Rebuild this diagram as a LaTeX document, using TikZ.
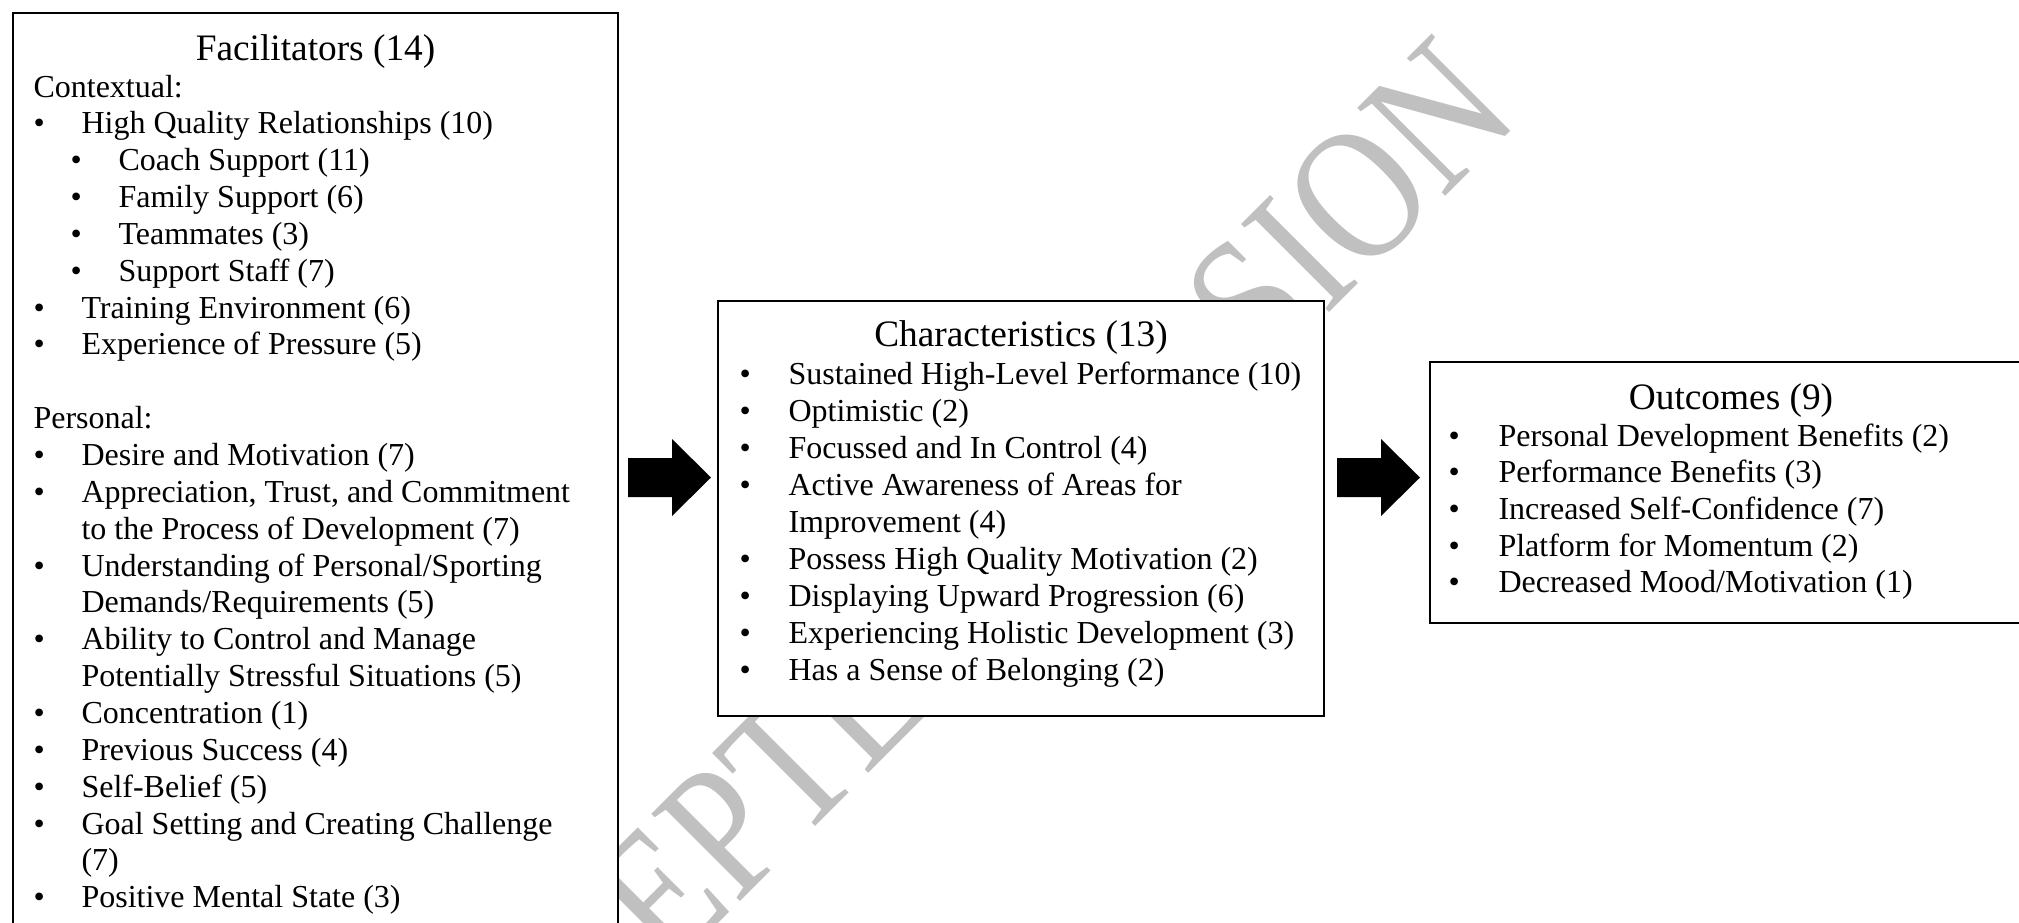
\documentclass[tikz,border=0pt]{standalone}
\usepackage{fontspec}
\setmainfont{Liberation Serif}
\usepackage{graphicx}
\usetikzlibrary{fit}
\definecolor{wmgray}{RGB}{192,192,192}
\begin{document}
\begin{tikzpicture}[x=0.375pt,y=-0.375pt,
  body/.style={anchor=base west, inner sep=0pt, font=\fontsize{12}{13.8}\selectfont},
  ttl/.style={anchor=base, inner sep=0pt, font=\fontsize{14}{16}\selectfont},
  box/.style={draw=black, line width=1pt, fill=white, inner sep=0pt, rectangle},
  wm/.style={anchor=base west, rotate=45, inner sep=0pt, text=wmgray, font=\fontsize{71.25}{72}\selectfont},
  blockarrow/.pic={\fill[black] (0,-19.5) -- (44,-19.5) -- (44,-38.5) -- (83,0) -- (44,38.5) -- (44,19.5) -- (0,19.5) -- cycle;}
]
\useasboundingbox (0,0) rectangle (2019,922);
\clip (0,0) rectangle (2019,922);

% watermark (behind the boxes)
\node[wm] (wmark) at (440,1202) {\scalebox{0.826}[1]{ACCEPTED VERSION}};

% boxes
\node[box, fit={(13,13) (618,940)}] (fac) {};
\node[box, fit={(718,301) (1324,716)}] (cha) {};
\node[box, fit={(1430,362) (2045,623)}] (out) {};

% block arrows
\pic (arrA) at (628,477.5) {blockarrow};
\pic (arrB) at (1337,477.5) {blockarrow};

% Facilitators
\node[ttl] (facT) at (315.5,60) {Facilitators (14)};
\node[body] (f0) at (33,97.0) {Contextual:};
\node[body] (f1b) at (33.2,133.85) {•};  \node[body] (f1) at (81,133.85) {High Quality Relationships (10)};
\node[body] (f2b) at (70,170.7) {•};     \node[body] (f2) at (118,170.7) {Coach Support (11)};
\node[body] (f3b) at (70,207.55) {•};    \node[body] (f3) at (118,207.55) {Family Support (6)};
\node[body] (f4b) at (70,244.4) {•};     \node[body] (f4) at (118,244.4) {Teammates (3)};
\node[body] (f5b) at (70,281.25) {•};    \node[body] (f5) at (118,281.25) {Support Staff (7)};
\node[body] (f6b) at (33.2,318.1) {•};   \node[body] (f6) at (81,318.1) {Training Environment (6)};
\node[body] (f7b) at (33.2,354.95) {•};  \node[body] (f7) at (81,354.95) {Experience of Pressure (5)};
\node[body] (f9) at (33,428.65) {Personal:};
\node[body] (f10b) at (33.2,465.5) {•};  \node[body] (f10) at (81,465.5) {Desire and Motivation (7)};
\node[body] (f11b) at (33.2,502.35) {•}; \node[body] (f11) at (81,502.35) {Appreciation, Trust, and Commitment};
\node[body] (f12) at (81,539.2) {to the Process of Development (7)};
\node[body] (f13b) at (33.2,576.05) {•}; \node[body] (f13) at (81,576.05) {Understanding of Personal/Sporting};
\node[body] (f14) at (81,612.9) {Demands/Requirements (5)};
\node[body] (f15b) at (33.2,649.75) {•}; \node[body] (f15) at (81,649.75) {Ability to Control and Manage};
\node[body] (f16) at (81,686.6) {Potentially Stressful Situations (5)};
\node[body] (f17b) at (33.2,723.45) {•}; \node[body] (f17) at (81,723.45) {Concentration (1)};
\node[body] (f18b) at (33.2,760.3) {•};  \node[body] (f18) at (81,760.3) {Previous Success (4)};
\node[body] (f19b) at (33.2,797.15) {•}; \node[body] (f19) at (81,797.15) {Self-Belief (5)};
\node[body] (f20b) at (33.2,834.0) {•};  \node[body] (f20) at (81,834.0) {Goal Setting and Creating Challenge};
\node[body] (f21) at (81,870.85) {(7)};
\node[body] (f22b) at (33.2,907.7) {•};  \node[body] (f22) at (81,907.7) {Positive Mental State (3)};

% Characteristics
\node[ttl] (chaT) at (1021,346.5) {Characteristics (13)};
\node[body] (c1b) at (739,384.2) {•}; \node[body] (c1) at (788,384.2) {Sustained High-Level Performance (10)};
\node[body] (c2b) at (739,421.2) {•}; \node[body] (c2) at (788,421.2) {Optimistic (2)};
\node[body] (c3b) at (739,458.2) {•}; \node[body] (c3) at (788,458.2) {Focussed and In Control (4)};
\node[body] (c4b) at (739,495.2) {•}; \node[body] (c4) at (788,495.2) {Active Awareness of Areas for};
\node[body] (c5) at (788,532.2) {Improvement (4)};
\node[body] (c6b) at (739,569.2) {•}; \node[body] (c6) at (788,569.2) {Possess High Quality Motivation (2)};
\node[body] (c7b) at (739,606.2) {•}; \node[body] (c7) at (788,606.2) {Displaying Upward Progression (6)};
\node[body] (c8b) at (739,643.2) {•}; \node[body] (c8) at (788,643.2) {Experiencing Holistic Development (3)};
\node[body] (c9b) at (739,680.2) {•}; \node[body] (c9) at (788,680.2) {Has a Sense of Belonging (2)};

% Outcomes
\node[ttl] (outT) at (1731,409) {Outcomes (9)};
\node[body] (o1b) at (1448,446.0) {•}; \node[body] (o1) at (1498,446.0) {Personal Development Benefits (2)};
\node[body] (o2b) at (1448,482.7) {•}; \node[body] (o2) at (1498,482.7) {Performance Benefits (3)};
\node[body] (o3b) at (1448,519.4) {•}; \node[body] (o3) at (1498,519.4) {Increased Self-Confidence (7)};
\node[body] (o4b) at (1448,556.1) {•}; \node[body] (o4) at (1498,556.1) {Platform for Momentum (2)};
\node[body] (o5b) at (1448,592.8) {•}; \node[body] (o5) at (1498,592.8) {Decreased Mood/Motivation (1)};
\end{tikzpicture}
\end{document}
